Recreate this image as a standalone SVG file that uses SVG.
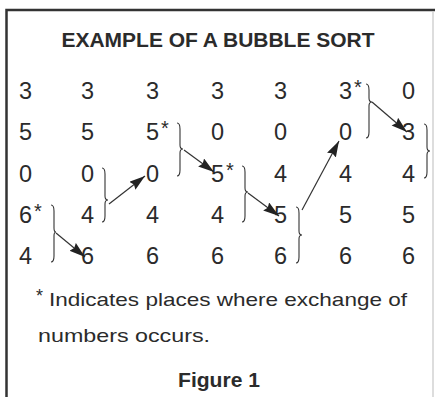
<svg xmlns="http://www.w3.org/2000/svg" width="435" height="397" viewBox="0 0 435 397">
<defs>
<style>
.t{font-family:"Liberation Sans",Arial,sans-serif;fill:#2b2b2b}
.d{font-size:23.5px}
.s{font-size:20px}
.b{font-weight:bold}
.br{fill:none;stroke:#333;stroke-width:1.1}
.ar{fill:none;stroke:#333;stroke-width:1.2}
</style>
<marker id="ah" markerUnits="userSpaceOnUse" markerWidth="18" markerHeight="12" refX="16" refY="5" orient="auto">
<path d="M0,0 L16,5 L0,10 L2,5 z" fill="#222"/>
</marker>
</defs>
<rect width="435" height="397" fill="#fff"/>
<g id="frame">
<path d="M6.5,397 V10 H435" fill="none" stroke="#333" stroke-width="2.5"/>
<path d="M433,12 V397" fill="none" stroke="#bbb" stroke-width="1"/>
</g>
<g id="title"><text class="t b" x="218" y="47" font-size="20" text-anchor="middle" textLength="313" lengthAdjust="spacingAndGlyphs">EXAMPLE OF A BUBBLE SORT</text></g>
<g id="col1" class="t d">
<text x="19" y="99">3</text><text x="19" y="140">5</text><text x="19" y="182">0</text><text x="19" y="223">6</text><text x="19" y="264">4</text>
<text class="s" x="34" y="218">*</text>
</g>
<g id="col2" class="t d">
<text x="81" y="99">3</text><text x="81" y="140">5</text><text x="81" y="182">0</text><text x="81" y="223">4</text><text x="81" y="264">6</text>
</g>
<g id="col3" class="t d">
<text x="146" y="99">3</text><text x="146" y="140">5</text><text x="146" y="182">0</text><text x="146" y="223">4</text><text x="146" y="264">6</text>
<text class="s" x="161" y="135">*</text>
</g>
<g id="col4" class="t d">
<text x="211" y="99">3</text><text x="211" y="140">0</text><text x="211" y="182">5</text><text x="211" y="223">4</text><text x="211" y="264">6</text>
<text class="s" x="226" y="177">*</text>
</g>
<g id="col5" class="t d">
<text x="274" y="99">3</text><text x="274" y="140">0</text><text x="274" y="182">4</text><text x="274" y="223">5</text><text x="274" y="264">6</text>
</g>
<g id="col6" class="t d">
<text x="339" y="99">3</text><text x="339" y="140">0</text><text x="339" y="182">4</text><text x="339" y="223">5</text><text x="339" y="264">6</text>
<text class="s" x="354" y="94">*</text>
</g>
<g id="col7" class="t d">
<text x="402" y="99">0</text><text x="402" y="140">3</text><text x="402" y="182">4</text><text x="402" y="223">5</text><text x="402" y="264">6</text>
</g>
<g id="connectors">
<path class="br" d="M51,205 Q54,205 54,211 V228 Q54,232 56,232 Q54,232 54,236 V256 Q54,262 51,262"/>
<path class="br" d="M102,168 Q105,168 105,174 V196 Q105,200 108,200 Q105,200 105,204 V216 Q105,222 102,222"/>
<path class="br" d="M177,123 Q180,123 180,129 V145 Q180,149 183,149 Q180,149 180,153 V170 Q180,176 177,176"/>
<path class="br" d="M242,166 Q245,166 245,172 V188 Q245,192 248,192 Q245,192 245,196 V216 Q245,222 242,222"/>
<path class="br" d="M296,207 Q299,207 299,213 V231 Q299,235 302,235 Q299,235 299,239 V257 Q299,263 296,263"/>
<path class="br" d="M366,84 Q369,84 369,90 V98 Q369,102 372,102 Q369,102 369,106 V132 Q369,138 366,138"/>
<path class="br" d="M424,124 Q427,124 427,130 V147 Q427,151 430,151 Q427,151 427,155 V172 Q427,178 424,178"/>
<line class="ar" x1="56" y1="233" x2="85" y2="257" marker-end="url(#ah)"/>
<line class="ar" x1="109" y1="204" x2="145" y2="176" marker-end="url(#ah)"/>
<line class="ar" x1="184" y1="150" x2="214" y2="172" marker-end="url(#ah)"/>
<line class="ar" x1="248" y1="193" x2="279" y2="216" marker-end="url(#ah)"/>
<line class="ar" x1="302" y1="210" x2="339" y2="141" marker-end="url(#ah)"/>
<line class="ar" x1="372" y1="102" x2="407" y2="132" marker-end="url(#ah)"/>
</g>
<g id="footnote" class="t">
<text x="36" y="302" font-size="18">*</text>
<text x="49" y="306" font-size="19" textLength="358" lengthAdjust="spacingAndGlyphs">Indicates places where exchange of</text>
<text x="38" y="342" font-size="19" textLength="172" lengthAdjust="spacingAndGlyphs">numbers occurs.</text>
</g>
<g id="caption"><text class="t b" x="219" y="387" font-size="20" text-anchor="middle" textLength="82" lengthAdjust="spacingAndGlyphs">Figure 1</text></g>
</svg>
